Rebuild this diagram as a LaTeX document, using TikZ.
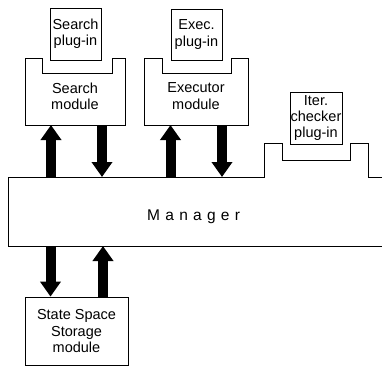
\documentclass[tikz,border=0pt]{standalone}
\usepackage{fontspec}
\setmainfont{Liberation Sans}
\usetikzlibrary{arrows.meta}
\begin{document}
\begin{tikzpicture}[x=1pt,y=-1pt,
  txt/.style={font=\fontsize{14.5}{16.3}\selectfont, align=center, inner sep=0pt},
  box/.style={txt, draw, line width=0.8pt},
  body/.style={inner sep=0pt, outer sep=0pt},
  outl/.style={draw, line width=0.8pt, line join=miter},
  bigarr/.style={line width=10pt, -{Triangle[width=20pt,length=15pt]}}]
\useasboundingbox (0,0) rectangle (382,370);

% plug-ins
\node[box, minimum width=51pt, minimum height=52pt] (splug) at (75.5,34) {Search\\plug-in};
\node[box, minimum width=51pt, minimum height=51pt] (eplug) at (196.5,34.5) {Exec.\\plug-in};
\node[box, minimum width=52pt, minimum height=52pt] (iplug) at (316,118) {Iter.\\checker\\plug-in};

% modules (bodies)
\node[body, minimum width=100pt, minimum height=67pt] (smod) at (75,91.5) {};
\node[body, minimum width=104pt, minimum height=67pt] (emod) at (196,91.5) {};
\node[body, minimum width=374pt, minimum height=69pt] (mgr) at (195,211.5) {};
\node[box, minimum width=103pt, minimum height=68pt] (store) at (76.5,331) {State Space\\Storage\\module};

\draw[outl] (25,58) -- (42,58) -- (42,73) -- (112,73) -- (112,58) -- (125,58) -- (125,125) -- (25,125) -- cycle;
\draw[outl] (144,58) -- (162,58) -- (162,73) -- (231,73) -- (231,58) -- (248,58) -- (248,125) -- (144,125) -- cycle;
\draw[outl] (382,177) -- (368,177) -- (368,143) -- (350,143) -- (350,160) -- (282,160) -- (282,143) -- (264,143) -- (264,177) -- (8,177) -- (8,246) -- (382,246);

\node[txt] (smodl) at (75,96) {Search\\module};
\node[txt] (emodl) at (196,96) {Executor\\module};
\node[txt, anchor=base west, font=\fontsize{15.5}{18}\selectfont\addfontfeature{LetterSpace=34}] (mgrl) at (147,220.5) {Manager};

% arrows
\draw[bigarr] (51,0 |- mgr.north) -- (51,0 |- smod.south);
\draw[bigarr] (102,0 |- smod.south) -- (102,0 |- mgr.north);
\draw[bigarr] (170.5,0 |- mgr.north) -- (170.5,0 |- emod.south);
\draw[bigarr] (222,0 |- emod.south) -- (222,0 |- mgr.north);
\draw[bigarr] (50.5,0 |- mgr.south) -- (50.5,0 |- store.north);
\draw[bigarr] (103,0 |- store.north) -- (103,0 |- mgr.south);
\end{tikzpicture}
\end{document}
